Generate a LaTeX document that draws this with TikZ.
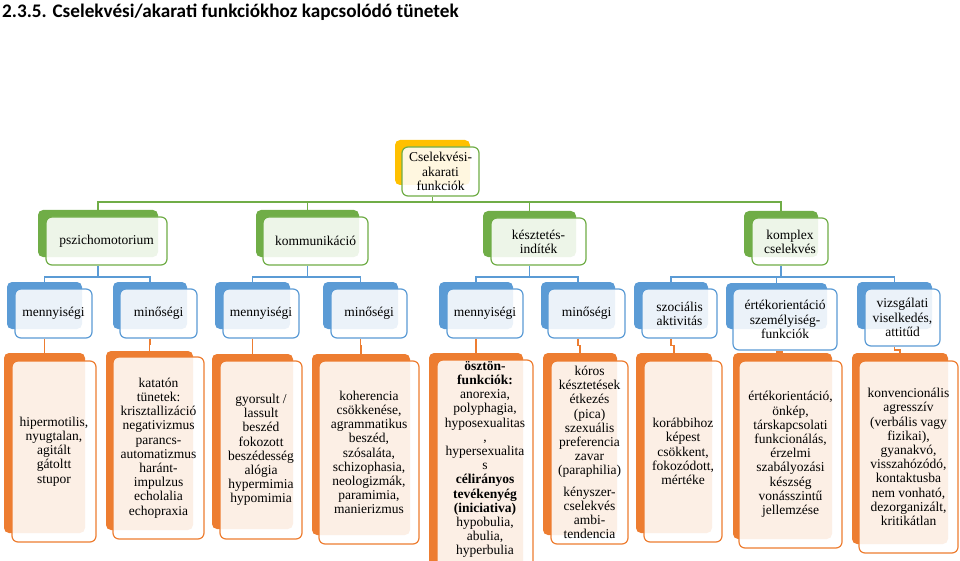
\documentclass[tikz,border=0pt]{standalone}
\usepackage{fontspec}
\setmainfont{Liberation Serif}
\newfontfamily\lserif{Liberation Serif}
\newfontfamily\titlefont{Carlito}
\usetikzlibrary{fit}
\definecolor{cgreen}{HTML}{70AD47}
\definecolor{cblue}{HTML}{5B9BD5}
\definecolor{corange}{HTML}{ED7D31}
\definecolor{cgold}{HTML}{FFC000}
\tikzset{
  shbox/.style={fill=#1, draw=none, rounded corners=5pt, inner sep=0pt},
  frbox/.style={draw=#1, fill=white, fill opacity=0.88, line width=1.2pt, rounded corners=6pt, inner sep=0pt},
  txt/.style={font=\lserif\fontsize{13.5}{14.2}\selectfont, align=center, inner sep=0pt, text=black},
  gcon/.style={draw=cgreen, line width=1.3pt},
  bcon/.style={draw=cblue, line width=1.3pt},
  ocon/.style={draw=corange, line width=1.3pt},
}
\newcommand\duo[5]{%
  \node[shbox=#2, fit={#3}] (#1s) {};
  \node[frbox=#4, fit={#5}] (#1f) {};
}
\begin{document}
\begin{tikzpicture}[x=1pt,y=-1pt]
\useasboundingbox (0,0) rectangle (960,561);
\node[anchor=base west, inner sep=0pt, font=\titlefont\bfseries\fontsize{19.2}{22}\selectfont] (title) at (2,17.5) {2.3.5. Cselekvési/akarati funkciókhoz kapcsolódó tünetek};

% level 1
\duo{top}{cgold}{(395,140) (470,185)}{cgreen}{(402,147) (479,196)}
\node[txt] (topt) at (topf.center) {Cselekvési-\\akarati\\funkciók};

% level 2
\duo{psz}{cgreen}{(38,210) (158,257)}{cgreen}{(46,217) (167,265)}
\duo{kom}{cgreen}{(256,210) (359,257)}{cgreen}{(263,217) (368,265)}
\duo{kes}{cgreen}{(483,211) (576,257)}{cgreen}{(491,218) (586,265)}
\duo{kpx}{cgreen}{(744,211) (818,257)}{cgreen}{(752,218) (828,265)}
\node[txt] (pszt) at (pszf.center) {pszichomotorium};
\node[txt] (komt) at (komf.center) {kommunikáció};
\node[txt] (kest) at (kesf.center) {késztetés-\\indíték};
\node[txt] (kpxt) at (kpxf.center) {komplex\\cselekvés};

% level 3
\duo{ma}{cblue}{(7,282) (82,329)}{cblue}{(15,289) (92,338)}
\duo{qa}{cblue}{(113,282) (187,329)}{cblue}{(120,289) (197,338)}
\duo{mb}{cblue}{(215,282) (290,329)}{cblue}{(223,289) (299,338)}
\duo{qb}{cblue}{(323,282) (398,329)}{cblue}{(331,289) (407,338)}
\duo{mc}{cblue}{(439,282) (513,329)}{cblue}{(447,289) (523,338)}
\duo{qc}{cblue}{(541,282) (615,329)}{cblue}{(548,289) (625,338)}
\duo{szo}{cblue}{(634,282) (708,329)}{cblue}{(642,289) (717,338)}
\duo{ert}{cblue}{(726,283) (827,329)}{cblue}{(733,289) (837,350)}
\duo{viz}{cblue}{(857,282) (932,329)}{cblue}{(865,289) (940,346)}
\node[txt] (mat) at (maf.center) {mennyiségi};
\node[txt] (qat) at (qaf.center) {minőségi};
\node[txt] (mbt) at (mbf.center) {mennyiségi};
\node[txt] (qbt) at (qbf.center) {minőségi};
\node[txt] (mct) at (mcf.center) {mennyiségi};
\node[txt] (qct) at (qcf.center) {minőségi};
\node[txt] (szot) at (szof.center) {szociális\\aktivitás};
\node[txt] (ertt) at (ertf.center) {értékorientáció\\személyiség-\\funkciók};
\node[txt] (vizt) at (vizf.center) {vizsgálati\\viselkedés,\\attitűd};

% level 4
\duo{na}{corange}{(4,353) (85,533)}{corange}{(12,361) (96,542)}
\duo{nb}{corange}{(106,351) (193,530)}{corange}{(113,357) (204,539)}
\duo{nc}{corange}{(212,354) (293,529)}{corange}{(220,361) (302,539)}
\duo{nd}{corange}{(312,354) (410,535)}{corange}{(319,361) (419,544)}
\duo{ne}{corange}{(429,353) (523,575)}{corange}{(437,360) (533,580)}
\duo{nf}{corange}{(543,353) (617,535)}{corange}{(551,361) (628,544)}
\duo{ng}{corange}{(636,353) (712,533)}{corange}{(644,361) (722,542)}
\duo{nh}{corange}{(733,353) (832,539)}{corange}{(739,361) (842,548)}
\duo{ni}{corange}{(852,353) (948,544)}{corange}{(859,361) (958,553)}
\node[txt] (nat) at (naf.center) {hipermotilis,\\nyugtalan,\\agitált\\gátoltt\\stupor};
\node[txt] (nbt) at (nbf.center) {katatón\\tünetek:\\krisztallizáció\\negativizmus\\parancs-\\automatizmus\\haránt-\\impulzus\\echolalia\\echopraxia};
\node[txt] (nct) at (ncf.center) {gyorsult /\\lassult\\beszéd\\fokozott\\beszédesség\\alógia\\hypermimia\\hypomimia};
\node[txt] (ndt) at (ndf.center) {koherencia\\csökkenése,\\agrammatikus\\beszéd,\\szósaláta,\\schizophasia,\\neologizmák,\\paramimia,\\manierizmus};
\node[txt] (net) at (485,459.5) {\textbf{ösztön-}\\\textbf{funkciók:}\\anorexia,\\polyphagia,\\hyposexualitas\\,\\hypersexualita\\s\\\textbf{célirányos}\\\textbf{tevékenyég}\\\textbf{(iniciativa)}\\hypobulia,\\abulia,\\hyperbulia};
\node[txt] (nft) at (nff.center) {kóros\\késztetések\\étkezés\\(pica)\\szexuális\\preferencia\\zavar\\(paraphilia)\\[7pt]kényszer-\\cselekvés\\ambi-\\tendencia};
\node[txt] (ngt) at (ngf.center) {korábbihoz\\képest\\csökkent,\\fokozódott,\\mértéke};
\node[txt] (nht) at (nhf.center) {értékorientáció,\\önkép,\\társkapcsolati\\funkcionálás,\\érzelmi\\szabályozási\\készség\\vonásszintű\\jellemzése};
\node[txt] (nit) at (nif.center) {konvencionális\\agresszív\\(verbális vagy\\fizikai),\\gyanakvó,\\visszahózódó,\\kontaktusba\\nem vonható,\\dezorganizált,\\kritikátlan};

% green connectors
\coordinate (jg) at (0,202);
\draw[gcon] (tops.center |- topf.south) -- (tops.center |- jg);
\draw[gcon] (pszs.north) |- (jg -| kpxs.center) -- (kpxs.north);
\draw[gcon] (jg -| koms.center) -- (koms.north);
\draw[gcon] (jg -| kess.center) -- (kess.north);

% blue connectors
\coordinate (jb) at (0,277);
\draw[bcon] (pszs.center |- pszf.south) -- (pszs.center |- jb);
\draw[bcon] (mas.north) |- (jb -| qas.center) -- (qas.north);
\draw[bcon] (koms.center |- komf.south) -- (koms.center |- jb);
\draw[bcon] (mbs.north) |- (jb -| qbs.center) -- (qbs.north);
\draw[bcon] (kess.center |- kesf.south) -- (kess.center |- jb);
\draw[bcon] (mcs.north) |- (jb -| qcs.center) -- (qcs.north);
\draw[bcon] (kpxs.center |- kpxf.south) -- (kpxs.center |- jb);
\draw[bcon] (szos.north) |- (jb -| vizs.center) -- (vizs.north);
\draw[bcon] (jb -| erts.center) -- (erts.north);

% orange connectors
\draw[ocon] (mas.center |- maf.south) -- ++(0,7) -| (nas.north);
\draw[ocon] (qas.center |- qaf.south) -- ++(0,6) -| (nbs.north);
\draw[ocon] (mbs.center |- mbf.south) -- ++(0,7) -| (ncs.north);
\draw[ocon] (qbs.center |- qbf.south) -- ++(0,7) -| (nds.north);
\draw[ocon] (mcs.center |- mcf.south) -- ++(0,7) -| (nes.north);
\draw[ocon] (qcs.center |- qcf.south) -- ++(0,7) -| (nfs.north);
\draw[ocon] (szos.center |- szof.south) -- ++(0,7) -| (ngs.north);
\draw[ocon] (erts.center |- ertf.south) -- ++(0,1.5) -| (nhs.north);
\draw[ocon] (vizs.center |- vizf.south) -- ++(0,3.5) -| (nis.north);
\end{tikzpicture}
\end{document}
